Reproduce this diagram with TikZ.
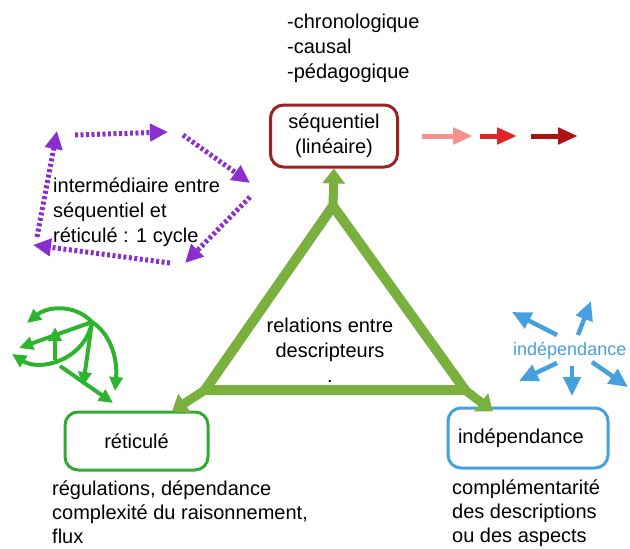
\documentclass[tikz,border=0pt]{standalone}
\usepackage{fontspec}
\setmainfont{Liberation Sans}
\usetikzlibrary{arrows.meta}

\definecolor{seqred}{RGB}{158,32,32}
\definecolor{triolive}{RGB}{122,176,62}
\definecolor{retgreen}{RGB}{52,168,52}
\definecolor{netgreen}{RGB}{44,180,44}
\definecolor{indblue}{RGB}{70,160,222}
\definecolor{cyclepurple}{RGB}{138,46,208}
\definecolor{redlight}{RGB}{244,146,146}
\definecolor{redmid}{RGB}{226,36,36}
\definecolor{reddark}{RGB}{172,20,20}

\tikzset{
  txt/.style={font=\fontsize{20}{25}\selectfont, inner sep=0pt, align=left},
  lowtxt/.style={font=\fontsize{20}{24}\selectfont, inner sep=0pt, align=left},
  catbox/.style={draw, line width=3pt, rounded corners=13pt, align=center,
    font=\fontsize{20}{25}\selectfont, inner sep=0pt},
  triedge/.style={draw=triolive, line width=10pt, line join=miter},
  triarrow/.style={triolive, line width=9pt,
    -{Triangle[length=15pt,width=22pt]}},
  cyclearrow/.style={cyclepurple, line width=5pt, dash pattern=on 3pt off 2.5pt,
    -{Triangle[length=18pt,width=17pt]}},
  netarrow/.style={netgreen, line width=4pt, -{Triangle[length=14pt,width=13pt]}},
  blueray/.style={indblue, line width=4.5pt, -{Triangle[length=19pt,width=17pt]}},
  redarrow/.style={line width=5pt, -{Triangle[length=20pt,width=16pt]}},
}

\begin{document}
\begin{tikzpicture}[x=1pt,y=-1pt]
\useasboundingbox (0,0) rectangle (630,549);

% ---- the three kinds of relation ----
\node[catbox, draw=seqred, minimum width=127pt, minimum height=62pt] (seq)
  at (334,136) {séquentiel\\(linéaire)};
\node[catbox, draw=retgreen, minimum width=143pt, minimum height=58pt] (ret)
  at (136.5,441) {réticulé};
\node[catbox, draw=indblue, minimum width=160pt, minimum height=60pt,
  text width=140pt, align=left] (ind) at (528,438) {indépendance};

% ---- central triangle ----
\coordinate (A) at (333,206);
\coordinate (B) at (205,390);
\coordinate (C) at (465,390);
\draw[triedge] (A) -- (B) -- (C) -- cycle;
\draw[triarrow] (A) -- (seq.south);
\draw[triarrow] (B) -- ([xshift=35.5pt,yshift=-1pt]ret.north);
\draw[triarrow] (C) -- ([xshift=-35pt,yshift=-5pt]ind.north);

\node[txt, align=center, anchor=north] (rel) at (330,318)
  {relations entre\\descripteurs\\.};

% ---- labels ----
\node[txt, anchor=north west] (seqlist) at (287,14)
  {-chronologique\\-causal\\-pédagogique};
\node[lowtxt, anchor=north west] (retlist) at (52,481)
  {régulations, dépendance\\complexité du raisonnement,\\flux};
\node[lowtxt, anchor=north west] (indlist) at (452,480)
  {complémentarité\\des descriptions\\ou des aspects};
\node[txt, anchor=north west] (cycle) at (53,178)
  {intermédiaire entre\\séquentiel et\\réticulé : 1 cycle};

% ---- linear chain of arrows ----
\draw[redarrow, redlight] (422,136) -- (473,136);
\draw[redarrow, redmid] (480,136) -- (517,136);
\draw[redarrow, reddark] (531,136) -- (578,136);

% ---- one cycle (dotted loop) ----
\draw[cyclearrow] (75,135) -- (168,132);
\draw[cyclearrow] (183,135) -- (250,183);
\draw[cyclearrow] (250,197) -- (185,263);
\draw[cyclearrow] (170,263) -- (33,245);
\draw[cyclearrow] (37,237) -- (57,131);

% ---- network of regulations ----
\coordinate (hub) at (92,322);
\coordinate (jn) at (60,366);
\draw[netarrow] (hub) .. controls (75,304) and (48,306) .. (27,323);
\draw[netarrow] (hub) -- (19,348);
\draw[netarrow] (55,360) -- (55,327);
\draw[netarrow] (hub) .. controls (85,360) and (40,372) .. (12,354);
\draw[netarrow] (jn) -- (113,403);
\draw[netarrow] (hub) -- (83,386);
\draw[netarrow] (hub) .. controls (108,332) and (118,355) .. (115,391);

% ---- independent directions ----
\node[font=\fontsize{18}{22}\selectfont, text=indblue, inner sep=0pt,
  anchor=base west] (indicon) at (513,355) {indépendance};
\draw[blueray] (557,335) -- (512,312);
\draw[blueray] (578,335) -- (591,301);
\draw[blueray] (557,363) -- (519,381);
\draw[blueray] (572,366) -- (572,396);
\draw[blueray] (592,362) -- (628,387);
\end{tikzpicture}
\end{document}
